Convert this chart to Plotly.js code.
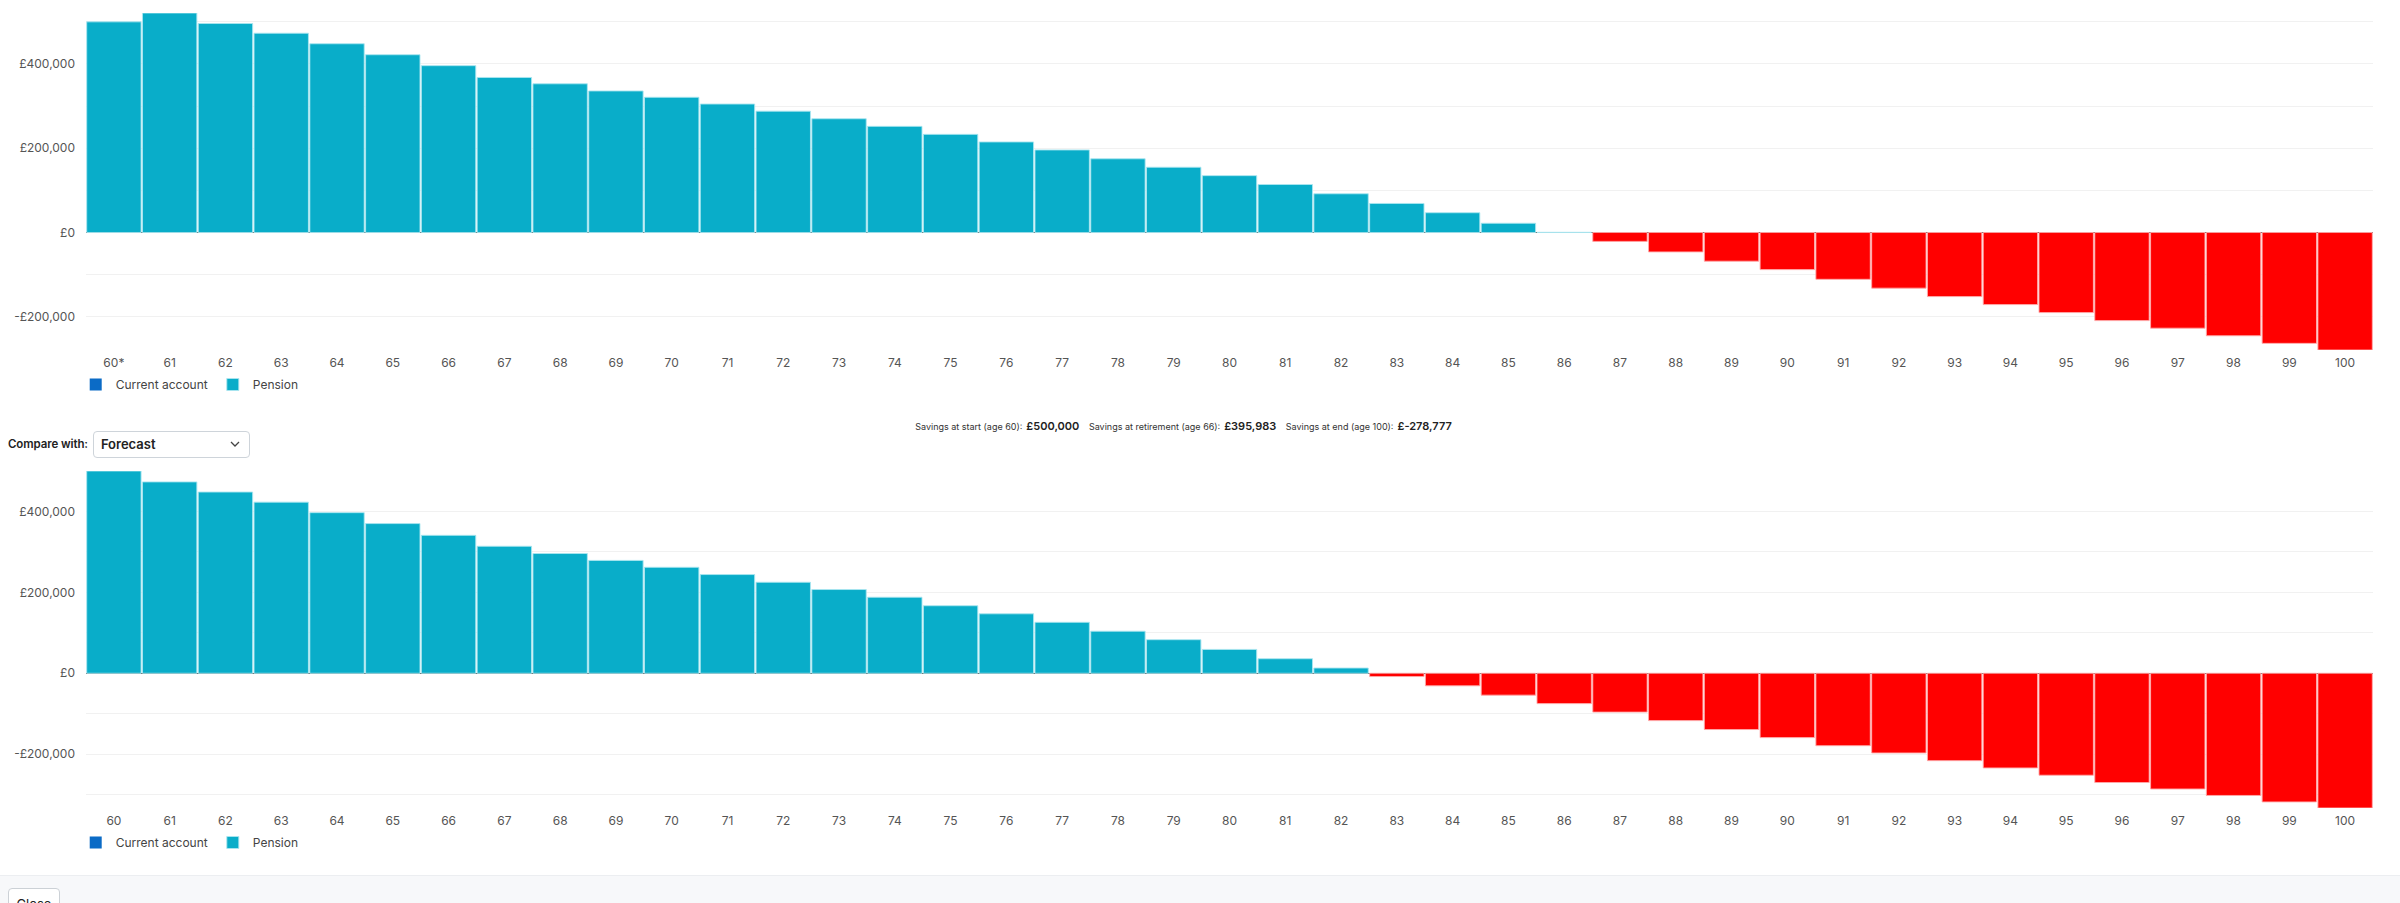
<!DOCTYPE html>
<html>
<head>
<meta charset="utf-8">
<script src="https://cdn.plot.ly/plotly-3.0.1.min.js"></script>
<style>
  html, body { margin:0; padding:0; background:#fff; font-family: Inter, "Noto Sans", sans-serif; }
  #page { position:relative; width:2400px; height:903px; overflow:hidden; background:#fff; }
  #chart1 { position:absolute; left:0; top:0; width:2400px; height:400px; }
  #chart2 { position:absolute; left:0; top:458px; width:2400px; height:400px; }
  #summary { position:absolute; left:0; width:2372px; top:414px; text-align:center; color:#333; white-space:nowrap; }
  #summary .lab { font-size:9px; color:#333; }
  #summary .val { font-size:11px; font-weight:600; color:#222; margin:0 5px 0 4px; }
  #compare { position:absolute; left:8px; top:430px; height:28px; display:flex; align-items:center; }
  #compare .lbl { font-size:11.5px; font-weight:600; color:#222; margin-right:5px; letter-spacing:-0.1px; }
  #compare .sel { width:148px; height:25px; border:1px solid #ced4da; border-radius:4px; background:#fff; position:relative; font-size:13px; font-weight:600; color:#222; line-height:25px; padding-left:7px; box-sizing:content-box; }
  #compare .sel svg { position:absolute; right:9px; top:9px; }
  #footer { position:absolute; left:0; top:875px; width:2400px; height:28px; background:#f7f8fa; border-top:1px solid #eceef1; }
  #close { position:absolute; left:8px; top:888px; width:52px; height:30px; border:1px solid #ccd1d6; border-radius:4px; background:#fff; font-size:13px; color:#222; text-align:center; line-height:18px; padding-top:6px; box-sizing:border-box; }
</style>
</head>
<body>
<div id="page">
  <div id="chart1"></div>
  <div id="summary">
    <span class="lab">Savings at start (age 60):</span><span class="val">£500,000</span>
    <span class="lab">Savings at retirement (age 66):</span><span class="val">£395,983</span>
    <span class="lab">Savings at end (age 100):</span><span class="val">£-278,777</span>
  </div>
  <div id="compare"><span class="lbl">Compare with:</span><div class="sel">Forecast<svg width="10" height="7" viewBox="0 0 10 7"><path d="M1 1 L5 5 L9 1" fill="none" stroke="#444" stroke-width="1.3"/></svg></div></div>
  <div id="chart2"></div>
  <div id="footer"></div>
  <div id="close">Close</div>
</div>
<script>
// ---- data ----
const agesTop = ['60*','61','62','63','64','65','66','67','68','69','70','71','72','73','74','75','76','77','78','79','80','81','82','83','84','85','86','87','88','89','90','91','92','93','94','95','96','97','98','99','100'];
const agesBottom = ['60','61','62','63','64','65','66','67','68','69','70','71','72','73','74','75','76','77','78','79','80','81','82','83','84','85','86','87','88','89','90','91','92','93','94','95','96','97','98','99','100'];

const pensionTop = [500000,521000,496000,473000,448000,422000,396000,368000,353000,336000,321000,305000,288000,270000,252000,233000,215000,196000,175000,155000,135000,114000,92000,69000,47000,22000,500,-21000,-46000,-68000,-88000,-111000,-132000,-152000,-171000,-190000,-209000,-227000,-245000,-263000,-278777];
const currentTop = [0,0,0,0,0,0,0,0,0,0,0,0,0,0,0,0,0,0,0,0,0,0,0,0,0,0,0,0,0,0,0,0,0,0,0,0,0,0,0,0,0];

const pensionBottom = [500000,473000,448000,423000,397000,370000,341000,314000,296000,279000,262000,244000,225000,207000,188000,167000,147000,126000,104000,83000,59000,36000,13000,-8000,-31000,-54000,-75000,-96000,-117000,-139000,-159000,-179000,-197000,-216000,-234000,-252000,-270000,-286000,-302000,-318000,-333000];
const currentBottom = [0,0,0,0,0,0,0,0,0,0,0,0,0,0,0,0,0,0,0,0,0,0,0,0,0,0,0,0,0,0,0,0,0,0,0,0,0,0,0,0,0];

const yTickVals = [-300000,-200000,-100000,0,100000,200000,300000,400000,500000];
const yTickText = ['','-£200,000','','£0','','£200,000','','£400,000',''];

// ---- style ----
const CYAN = '#09adc9', RED = '#ff0000', BLUE = '#0b6bc6';
const FONT = 'Inter, "Noto Sans", sans-serif';

function build(divId, ages, pension, current) {
  const colors = pension.map(v => v < 0 ? RED : CYAN);
  const lines = pension.map(v => v < 0 ? 'rgba(255,170,170,0.9)' : 'rgba(170,230,240,0.9)');
  const traces = [
    { type:'bar', name:'Current account', x:ages, y:current, marker:{color:BLUE, line:{width:0}}, hoverinfo:'skip' },
    { type:'bar', name:'Pension', x:ages, y:pension, marker:{color:colors, line:{color:lines, width:1}}, hoverinfo:'skip' }
  ];
  const layout = {
    width:2400, height:400,
    margin:{l:86, r:27, t:13, b:50, autoexpand:false},
    paper_bgcolor:'rgba(0,0,0,0)', plot_bgcolor:'rgba(0,0,0,0)',
    barmode:'relative', bargap:0.025,
    font:{family:FONT, size:12, color:'#555'},
    showlegend:true,
    legend:{orientation:'h', x:-0.0045, xanchor:'left', yref:'container', y:0.075, yanchor:'top', font:{family:FONT, size:12, color:'#444'}, traceorder:'normal', itemwidth:30},
    xaxis:{type:'category', automargin:false, showgrid:false, zeroline:false, showline:false, ticks:'', tickfont:{family:FONT, size:12, color:'#555'}, ticklabelstandoff:4, fixedrange:true},
    yaxis:{range:[Math.min(...pension), Math.max(...pension)], automargin:false, tickmode:'array', tickvals:yTickVals, ticktext:yTickText,
           showgrid:true, gridcolor:'#f1f1f1', gridwidth:1, zeroline:true, zerolinecolor:'#6b6b6b', zerolinewidth:1.5,
           showline:false, ticks:'', tickfont:{family:FONT, size:12, color:'#555'}, ticklabelstandoff:10, fixedrange:true}
  };
  Plotly.newPlot(divId, traces, layout, {displayModeBar:false, staticPlot:true});
}
build('chart1', agesTop, pensionTop, currentTop);
build('chart2', agesBottom, pensionBottom, currentBottom);
</script>
</body>
</html>
